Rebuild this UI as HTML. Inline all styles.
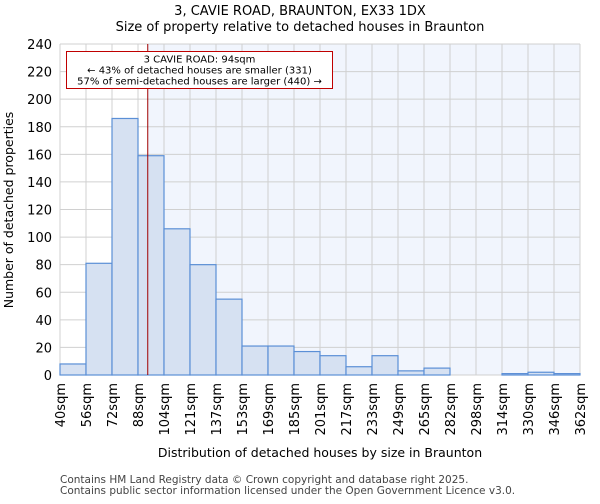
<!DOCTYPE html>
<html><head><meta charset="utf-8"><style>
body{margin:0;background:#fff;font-family:"DejaVu Sans","Liberation Sans",sans-serif}
</style></head><body>
<svg id="chart" width="600" height="500" xmlns="http://www.w3.org/2000/svg" font-family="DejaVu Sans, Liberation Sans, sans-serif">
<text x="300" y="15" text-anchor="middle" font-size="13">3, CAVIE ROAD, BRAUNTON, EX33 1DX</text>
<text x="300" y="31" text-anchor="middle" font-size="13">Size of property relative to detached houses in Braunton</text>
<g id="plot"></g>
<text x="320" y="457" text-anchor="middle" font-size="12.5">Distribution of detached houses by size in Braunton</text>
<text transform="translate(13,210) rotate(-90)" text-anchor="middle" font-size="12.5">Number of detached properties</text>
<text x="60" y="483" font-size="10.5" fill="#444">Contains HM Land Registry data © Crown copyright and database right 2025.</text>
<text x="60" y="494" font-size="10.5" fill="#444">Contains public sector information licensed under the Open Government Licence v3.0.</text>
</svg>
<script>
const categories=["40sqm","56sqm","72sqm","88sqm","104sqm","121sqm","137sqm","153sqm","169sqm","185sqm","201sqm","217sqm","233sqm","249sqm","265sqm","282sqm","298sqm","314sqm","330sqm","346sqm","362sqm"];
const counts=[8,81,186,159,106,80,55,21,21,17,14,6,14,3,5,0,0,1,2,1];
const yTicks=[0,20,40,60,80,100,120,140,160,180,200,220,240];
const markerValue=94;
const binStarts=[40,56,72,88,104,121,137,153,169,185,201,217,233,249,265,282,298,314,330,346,362];
const L=60,R=580,T=44,B=375,yMax=240;
const NS="http://www.w3.org/2000/svg";
const g=document.getElementById('plot');
const n=counts.length,bw=(R-L)/n;
const x=i=>L+i*bw;
const y=v=>B-v/yMax*(B-T);
function el(t,a){const e=document.createElementNS(NS,t);for(const k in a)e.setAttribute(k,a[k]);g.appendChild(e);return e;}
let mi=0;for(let i=0;i<binStarts.length-1;i++){if(markerValue>=binStarts[i])mi=i;}
const mx=x(mi)+(markerValue-binStarts[mi])/(binStarts[mi+1]-binStarts[mi])*bw;
let r=el('rect',{x:L,y:T,width:R-L,height:B-T,fill:'#fff'});


r=el('rect',{x:mx,y:T,width:R-mx,height:B-T,fill:'#f1f5fd'});


for(let i=0;i<=n;i++){const l=el('line',{x1:x(i),x2:x(i),y1:T,y2:B,stroke:'#d0d0d0','stroke-width':1});

}
yTicks.forEach(v=>{const l=el('line',{x1:L,x2:R,y1:y(v),y2:y(v),stroke:'#d0d0d0','stroke-width':1});


const t=el('text',{x:L-8,y:y(v)+5,'text-anchor':'end','font-size':13});t.textContent=v;

});
counts.forEach((c,i)=>{if(c<=0)return;const b=el('rect',{x:x(i),y:y(c),width:bw,height:B-y(c),fill:'#d6e1f2',stroke:'#5b8fd6','stroke-width':1.2});

});
categories.forEach((c,i)=>{const t=el('text',{transform:`translate(${x(i)+5},${B+8}) rotate(-90)`,'text-anchor':'end','font-size':13});t.textContent=c;

});
const ml=el('line',{x1:mx,x2:mx,y1:T,y2:B,stroke:'#a00000','stroke-width':1});


const box=el('rect',{x:66.5,y:51.5,width:266,height:37,fill:'#fff',stroke:'#c00000','stroke-width':1});


["3 CAVIE ROAD: 94sqm","← 43% of detached houses are smaller (331)","57% of semi-detached houses are larger (440) →"].forEach((s,k)=>{const t=el('text',{x:199.5,y:62.5+k*11,'text-anchor':'middle','font-size':10});t.textContent=s;

});
</script>
</body></html>
